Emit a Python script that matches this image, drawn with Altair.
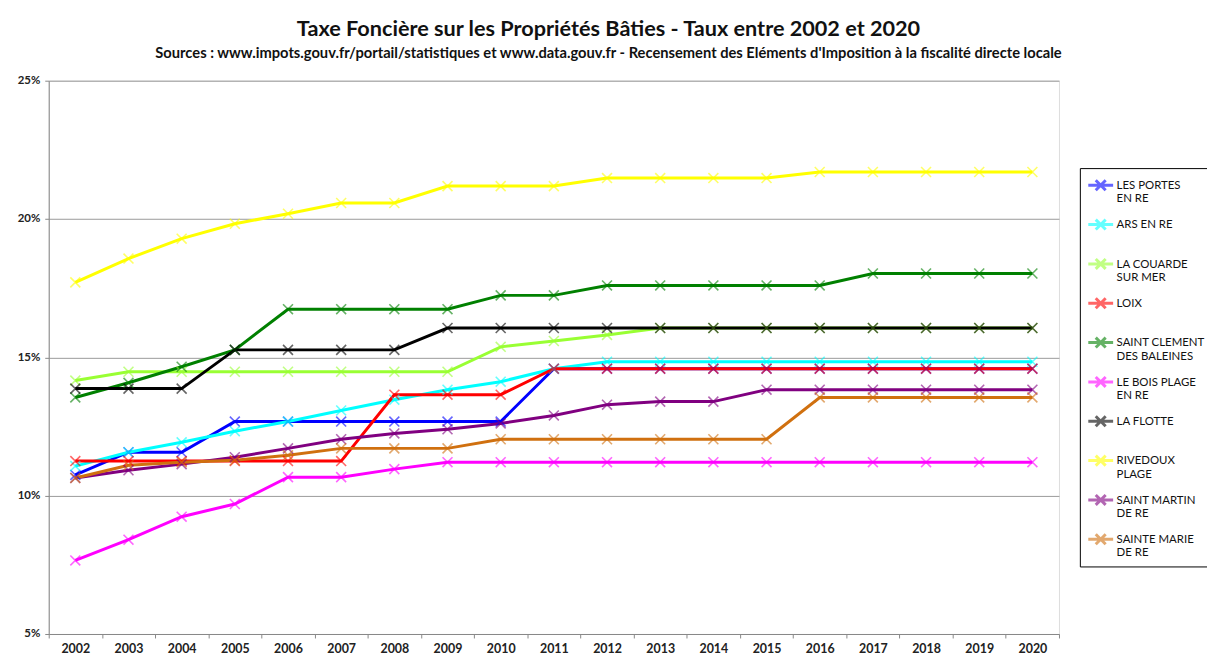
import altair as alt
import pandas as pd

years = list(range(2002, 2021))

series_names = [
    "LES PORTES|EN RE",
    "ARS EN RE| ",
    "LA COUARDE|SUR MER",
    "LOIX| ",
    "SAINT CLEMENT|DES BALEINES",
    "LE BOIS PLAGE|EN RE",
    "LA FLOTTE| ",
    "RIVEDOUX|PLAGE",
    "SAINT MARTIN|DE RE",
    "SAINTE MARIE|DE RE",
]
series_colors = ["#0000FF", "#00FFFF", "#99FF33", "#FF0000", "#008000",
                 "#FF00FF", "#000000", "#FFFF00", "#800080", "#D0700F"]

les_portes = [10.75, 11.57, 11.57, 12.68, 12.68, 12.68, 12.68, 12.68, 12.68, 14.59,
              14.59, 14.59, 14.59, 14.59, 14.59, 14.59, 14.59, 14.59, 14.59]
ars = [11.07, 11.57, 11.93, 12.33, 12.68, 13.08, 13.47, 13.83, 14.12, 14.59,
       14.84, 14.84, 14.84, 14.84, 14.84, 14.84, 14.84, 14.84, 14.84]
couarde = [14.16, 14.48, 14.48, 14.48, 14.48, 14.48, 14.48, 14.48, 15.38, 15.59,
           15.81, 16.06, 16.06, 16.06, 16.06, 16.06, 16.06, 16.06, 16.06]
loix = [11.25, 11.25, 11.25, 11.25, 11.25, 11.25, 13.65, 13.65, 13.65, 14.59,
        14.59, 14.59, 14.59, 14.59, 14.59, 14.59, 14.59, 14.59, 14.59]
st_clement = [13.55, 14.08, 14.66, 15.27, 16.74, 16.74, 16.74, 16.74, 17.24, 17.24,
              17.60, 17.60, 17.60, 17.60, 17.60, 18.03, 18.03, 18.03, 18.03]
bois_plage = [7.66, 8.41, 9.24, 9.70, 10.67, 10.67, 10.96, 11.21, 11.21, 11.21,
              11.21, 11.21, 11.21, 11.21, 11.21, 11.21, 11.21, 11.21, 11.21]
flotte = [13.87, 13.87, 13.87, 15.27, 15.27, 15.27, 15.27, 16.06, 16.06, 16.06,
          16.06, 16.06, 16.06, 16.06, 16.06, 16.06, 16.06, 16.06, 16.06]
rivedoux = [17.71, 18.57, 19.29, 19.83, 20.19, 20.58, 20.58, 21.19, 21.19, 21.19,
            21.48, 21.48, 21.48, 21.48, 21.70, 21.70, 21.70, 21.70, 21.70]
st_martin = [10.64, 10.92, 11.14, 11.39, 11.71, 12.04, 12.25, 12.40, 12.61, 12.90,
             13.29, 13.40, 13.40, 13.83, 13.83, 13.83, 13.83, 13.83, 13.83]
ste_marie = [10.64, 11.10, 11.21, 11.28, 11.46, 11.71, 11.71, 11.71, 12.04, 12.04,
             12.04, 12.04, 12.04, 12.04, 13.55, 13.55, 13.55, 13.55, 13.55]

all_values = [les_portes, ars, couarde, loix, st_clement, bois_plage, flotte,
              rivedoux, st_martin, ste_marie]

rows = []
for si, (name, vals) in enumerate(zip(series_names, all_values)):
    for y, v in zip(years, vals):
        rows.append({"commune": name, "annee": str(y), "taux": v, "ordre": si})
df = pd.DataFrame(rows)

FONT = "Lato"
x_enc = alt.X("annee:O", title=None,
              scale=alt.Scale(type="band", paddingInner=0, paddingOuter=0),
              axis=alt.Axis(tickBand="extent", grid=False, labelAngle=0,
                            labelFontWeight="bold", labelFontSize=12.5,
                            labelColor="#222", labelPadding=5, tickSize=4,
                            tickColor="#888", domainColor="#888",
                            labelFont=FONT))
y_enc = alt.Y("taux:Q", title=None,
              scale=alt.Scale(domain=[5, 25], nice=False, zero=False),
              axis=alt.Axis(values=[5, 10, 15, 20, 25], labelExpr="datum.value + '%'",
                            grid=True, gridColor="#9a9a9a", gridWidth=1,
                            labelFontWeight="bold", labelFontSize=11.5,
                            labelColor="#222", labelPadding=5, tickSize=4,
                            tickColor="#888", domainColor="#888",
                            labelFont=FONT))

legend = alt.Legend(
    title=None, orient="none", legendX=1038, legendY=88,
    labelExpr="split(datum.label, '|')",
    labelFont=FONT, labelFontSize=11.5, labelColor="#111",
    labelBaseline="alphabetic", labelOffset=2, labelLimit=200,
    symbolType="M-1,-0.3H1M-0.4,-0.7L0.4,0.1M-0.4,0.1L0.4,-0.7",
    symbolSize=625, symbolStrokeWidth=3, rowPadding=8.6,
    strokeColor="#000", padding=7, fillColor="white",
)

lines = alt.Chart(df).mark_line(
    strokeWidth=3,
    point=alt.OverlayMarkDef(shape="M-1,-1L1,1M-1,1L1,-1", filled=False,
                             size=100, strokeWidth=1.6, opacity=0.6),
).encode(
    x=x_enc,
    y=y_enc,
    color=alt.Color("commune:N", sort=series_names,
                    scale=alt.Scale(domain=series_names, range=series_colors),
                    legend=legend),
    order=alt.Order("ordre:Q"),
)

chart = lines.properties(
    width=1017, height=557,
    autosize=alt.AutoSizeParams(type="none"),
    padding={"left": 41, "top": 71, "right": 149, "bottom": 25},
    title=alt.TitleParams(
        text="Taxe Foncière sur les Propriétés Bâties - Taux entre 2002 et 2020",
        subtitle="Sources : www.impots.gouv.fr/portail/statistiques et www.data.gouv.fr - Recensement des Eléments d'Imposition à la fiscalité directe locale",
        font=FONT, fontSize=21.8, fontWeight="bold", color="#111",
        subtitleFont=FONT, subtitleFontSize=14.8, subtitleFontWeight="bold",
        subtitleColor="#111", subtitlePadding=5,
        anchor="middle", dx=55, offset=14,
    ),
).configure_view(stroke=None).configure(background="white")

chart.save("out.html", embed_options={"renderer": "svg", "actions": False})
